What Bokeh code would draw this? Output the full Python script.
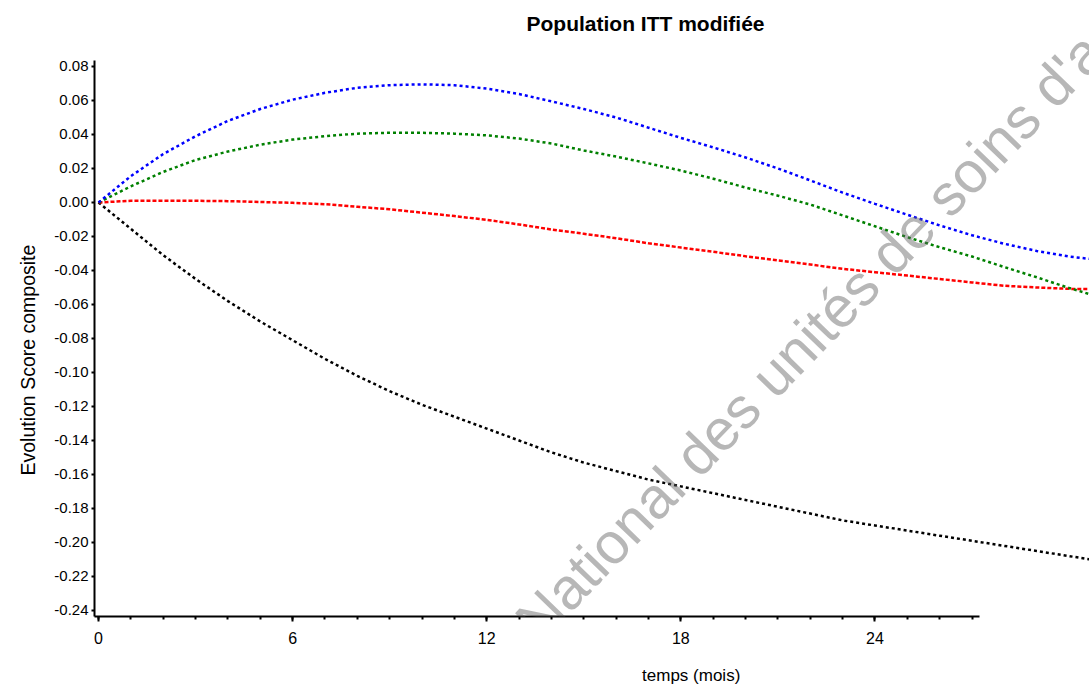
from bokeh.plotting import figure
from bokeh.models import Range1d, FixedTicker, NumeralTickFormatter, Label, Title
from bokeh.embed import file_html
from bokeh.resources import INLINE

# ---- data ----
months = list(range(0, 32))
serie_bleue = [0.0, 0.0155, 0.0285, 0.039, 0.048, 0.055, 0.0605, 0.0645, 0.0675, 0.069,
               0.0695, 0.069, 0.067, 0.0638, 0.0595, 0.0550, 0.050, 0.044, 0.038, 0.0324,
               0.0265, 0.020, 0.013, 0.0058, -0.0008, -0.0072, -0.0135, -0.0193, -0.0243,
               -0.0285, -0.0318, -0.034]
serie_verte = [0.0, 0.0095, 0.018, 0.025, 0.030, 0.034, 0.037, 0.039, 0.0405, 0.041,
               0.041, 0.0405, 0.0395, 0.0376, 0.0347, 0.0306, 0.027, 0.023, 0.0188, 0.014,
               0.0088, 0.004, -0.0012, -0.0076, -0.014, -0.0204, -0.0263, -0.0318, -0.038,
               -0.044, -0.0503, -0.056]
serie_rouge = [0.0, 0.001, 0.001, 0.001, 0.0008, 0.0003, -0.0002, -0.001, -0.0025, -0.004,
               -0.006, -0.008, -0.0102, -0.0129, -0.0159, -0.0184, -0.021, -0.024, -0.0265,
               -0.029, -0.0316, -0.034, -0.0365, -0.039, -0.041, -0.043, -0.045, -0.047,
               -0.049, -0.050, -0.0508, -0.051]
serie_noire = [0.0, -0.0155, -0.031, -0.045, -0.058, -0.070, -0.081, -0.092, -0.102, -0.111,
               -0.119, -0.126, -0.133, -0.140, -0.147, -0.153, -0.158, -0.163, -0.167, -0.171,
               -0.175, -0.179, -0.183, -0.187, -0.190, -0.193, -0.196, -0.199, -0.202, -0.205,
               -0.208, -0.211]

x_major_ticks = [0, 6, 12, 18, 24]
x_minor_ticks = list(range(0, 28))
y_ticks = [round(-0.24 + 0.02 * i, 2) for i in range(17)]

title_text = "Population ITT modifiée"
x_label = "temps (mois)"
y_label = "Evolution Score composite"
watermark = "s National des unités de soins d'a"

FONT = "Liberation Sans"

p = figure(width=1089, height=689, output_backend="svg", toolbar_location=None,
           x_range=Range1d(-0.1236, 30.63), y_range=Range1d(-0.24353, 0.09529),
           min_border_left=94, min_border_right=0, min_border_top=40, min_border_bottom=73)
p.outline_line_color = None
p.grid.visible = False
p.background_fill_color = "white"
p.border_fill_color = "white"

p.title = Title(text=title_text, align="left", offset=432, standoff=12, text_font=FONT,
                text_font_size="21px", text_font_style="bold", text_color="black")

# x axis (label shifted right of centre with non-breaking spaces)
xa = p.xaxis[0]
xa.bounds = (-0.1236, 27.24)
xa.ticker = FixedTicker(ticks=x_major_ticks, minor_ticks=x_minor_ticks)
xa.axis_line_width = 2
xa.axis_line_color = "black"
xa.major_tick_line_width = 2
xa.major_tick_out = 5
xa.major_tick_in = 0
xa.minor_tick_line_width = 2
xa.minor_tick_out = 3
xa.minor_tick_in = 0
xa.major_label_text_font = FONT
xa.major_label_text_font_size = "16px"
xa.major_label_text_color = "black"
xa.major_label_standoff = 10
xa.axis_label = "\u00a0" * 42 + x_label
xa.axis_label_standoff = 19
xa.axis_label_text_font = FONT
xa.axis_label_text_font_size = "17px"
xa.axis_label_text_font_style = "normal"
xa.axis_label_text_color = "black"

# y axis
ya = p.yaxis[0]
ya.bounds = (-0.2435, 0.0835)
ya.ticker = FixedTicker(ticks=y_ticks, minor_ticks=[])
ya.formatter = NumeralTickFormatter(format="0.00")
ya.axis_line_width = 2
ya.axis_line_color = "black"
ya.major_tick_line_width = 2
ya.major_tick_out = 3
ya.major_tick_in = 0
ya.minor_tick_line_color = None
ya.major_label_text_font = FONT
ya.major_label_text_font_size = "15px"
ya.major_label_text_color = "black"
ya.major_label_standoff = 3

p.add_layout(Title(text=y_label, align="left", offset=141, standoff=25, text_font=FONT,
                   text_font_size="19.5px", text_font_style="normal", text_color="black"), "left")

# watermark (screen units, relative to the plot frame)
p.add_layout(Label(x=400, y=-46, x_units="screen", y_units="screen", text=watermark,
                   angle=46, angle_units="deg", text_baseline="alphabetic",
                   text_font=FONT, text_font_size="58px", text_color="#606060",
                   text_alpha=0.45))

dash = "3 3"
p.line(months, serie_noire, line_color="black", line_width=2.5, line_dash=dash)
p.line(months, serie_rouge, line_color="#ff0000", line_width=2.5, line_dash="4 2")
p.line(months, serie_verte, line_color="#008000", line_width=2.5, line_dash=dash)
p.line(months, serie_bleue, line_color="#0000ff", line_width=2.5, line_dash=dash)

open("out.html", "w").write(file_html(p, INLINE))
